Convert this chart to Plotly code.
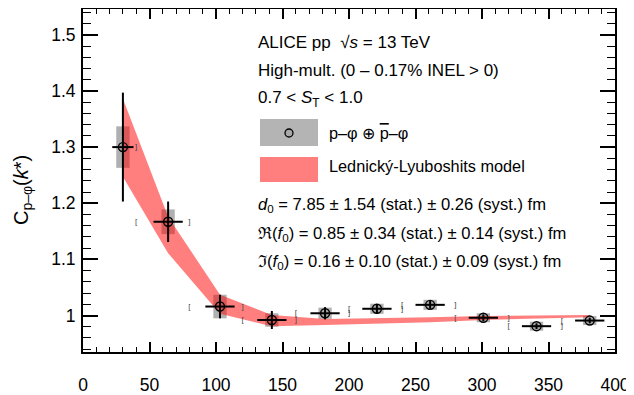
import plotly.graph_objects as go

# ---------------- data ----------------
k_star = [30, 64, 103, 142, 182, 221, 261, 301, 341, 381]
cf = [1.300, 1.167, 1.016, 0.992, 1.004, 1.012, 1.019, 0.996, 0.981, 0.991]
stat_y = [0.097, 0.036, 0.021, 0.016, 0.011, 0.008, 0.007, 0.006, 0.005, 0.005]
stat_x = [8, 11, 11, 11, 11, 11, 11, 11, 11, 11]
syst_y = [0.037, 0.022, 0.021, 0.012, 0.010, 0.009, 0.009, 0.008, 0.008, 0.008]
bin_low = [0, 40, 80, 120, 160, 200, 240, 280, 320, 360]
bin_high = [40, 80, 120, 160, 200, 240, 280, 320, 360, 400]

model_k = [30, 64, 103, 142, 182, 221, 261, 301, 341, 381]
model_low = [1.247, 1.111, 1.003, 0.981, 0.983, 0.985, 0.988, 0.992, 0.994, 0.997]
model_high = [1.386, 1.176, 1.037, 1.001, 0.994, 0.995, 0.997, 0.999, 1.000, 1.001]

x_ticks = [0, 50, 100, 150, 200, 250, 300, 350, 400]
y_ticks = [1.0, 1.1, 1.2, 1.3, 1.4, 1.5]
y_tick_text = ["1", "1.1", "1.2", "1.3", "1.4", "1.5"]

FONT = "Liberation Sans, Arial, Helvetica, sans-serif"

# The page body has an 8px default margin, so the figure is offset by (8, 8).
OFF = 8
W, H = 634 - OFF, 395 - OFF
# plot area in page pixels
PL, PR, PT, PB = 83, 615, 9, 352
L, R, T, B = PL - OFF, (OFF + W) - PR, PT - OFF, (OFF + H) - PB
PW, PH = PR - PL, PB - PT


def px(xp):
    return (xp - PL) / PW


def py(yp):
    return 1 - (yp - PT) / PH


fig = go.Figure()

# systematic boxes
fig.add_trace(go.Bar(
    x=k_star, y=[2 * s for s in syst_y], base=[c - s for c, s in zip(cf, syst_y)],
    width=10, marker=dict(color="rgba(150,150,150,0.75)", line=dict(width=0)),
    showlegend=False, hoverinfo="skip"))

# marker fill (under band)
fig.add_trace(go.Scatter(
    x=k_star, y=cf, mode="markers",
    marker=dict(symbol="circle", size=9, color="#a8a8a8", line=dict(width=0)),
    showlegend=False, hoverinfo="skip"))

# model band
fig.add_trace(go.Scatter(x=model_k, y=model_low, mode="lines",
                         line=dict(width=0, color="rgba(255,0,0,0)"),
                         showlegend=False, hoverinfo="skip"))
fig.add_trace(go.Scatter(x=model_k, y=model_high, mode="lines", fill="tonexty",
                         fillcolor="rgba(255,0,0,0.5)",
                         line=dict(width=0, color="rgba(255,0,0,0)"),
                         showlegend=False, hoverinfo="skip"))

# points with statistical errors
fig.add_trace(go.Scatter(
    x=k_star, y=cf, mode="markers",
    marker=dict(symbol="circle", size=9, color="rgba(0,0,0,0)",
                line=dict(width=1.4, color="black")),
    error_x=dict(type="data", array=stat_x, color="black", thickness=2, width=0),
    error_y=dict(type="data", array=stat_y, color="black", thickness=2, width=0),
    showlegend=False))

# bin-edge bracket glyphs
fig.add_trace(go.Scatter(
    x=bin_low[1:], y=cf[1:], mode="text", text=["["] * (len(cf) - 1),
    textfont=dict(size=8, color="#444", family=FONT), textposition="middle center",
    showlegend=False, hoverinfo="skip"))
fig.add_trace(go.Scatter(
    x=bin_high[:-1], y=cf[:-1], mode="text", text=["]"] * (len(cf) - 1),
    textfont=dict(size=8, color="#444", family=FONT), textposition="middle center",
    showlegend=False, hoverinfo="skip"))

axis_common = dict(showline=True, linecolor="black", linewidth=2, mirror="ticks",
                   ticks="inside", tickcolor="black", tickwidth=1.5,
                   showgrid=False, zeroline=False, automargin=False,
                   tickfont=dict(family=FONT, size=17.5, color="black"))

fig.update_xaxes(range=[0, 400], tickvals=x_ticks, ticklen=10,
                 minor=dict(dtick=10, ticks="inside", ticklen=5, tickwidth=1.2,
                            tickcolor="black", showgrid=False),
                 ticklabelstandoff=16, **axis_common)
fig.update_yaxes(range=[0.935, 1.546], tickvals=y_ticks, ticktext=y_tick_text, ticklen=15,
                 minor=dict(dtick=0.02, tick0=0, ticks="inside", ticklen=8, tickwidth=1.2,
                            tickcolor="black", showgrid=False),
                 ticklabelstandoff=2, **axis_common)

ann = []


def txt(x, y, s, size=16.6):
    ann.append(dict(x=px(x), y=py(y), xref="paper", yref="paper", text=s,
                    showarrow=False, xanchor="left", yanchor="middle",
                    font=dict(family=FONT, size=size, color="black")))


txt(256, 42, "ALICE pp  √<i>s</i> = 13 TeV", 17)
txt(256, 70, "High-mult. (0 – 0.17% INEL > 0)", 17)
txt(256, 99, "0.7 < <i>S</i><sub>T</sub> < 1.0", 17)
txt(327, 133, "p–φ ⊕ <span style='text-decoration:overline'>p</span>–φ", 16.3)
txt(327, 166, "Lednický-Lyuboshits model", 16.3)
txt(256, 205, "<i>d</i><sub>0</sub> = 7.85 ± 1.54 (stat.) ± 0.26 (syst.) fm")
txt(256, 234, "ℜ(<i>f</i><sub>0</sub>) = 0.85 ± 0.34 (stat.) ± 0.14 (syst.) fm")
txt(256, 262, "ℑ(<i>f</i><sub>0</sub>) = 0.16 ± 0.10 (stat.) ± 0.09 (syst.) fm")

ann.append(dict(x=px(22), y=py(190), xref="paper", yref="paper",
                text="C<sub>p–φ</sub>(<i>k</i>*)", textangle=-90, showarrow=False,
                xanchor="center", yanchor="middle",
                font=dict(family=FONT, size=20, color="black")))

shapes = [
    dict(type="rect", xref="paper", yref="paper", x0=px(260), x1=px(318),
         y0=py(146), y1=py(119), fillcolor="#b4b4b4", line=dict(width=0), layer="above"),
    dict(type="circle", xref="paper", yref="paper", x0=px(285), x1=px(293),
         y0=py(137), y1=py(129), fillcolor="#a8a8a8", line=dict(width=1.3, color="black"),
         layer="above"),
    dict(type="rect", xref="paper", yref="paper", x0=px(260), x1=px(318),
         y0=py(182), y1=py(157), fillcolor="rgba(255,0,0,0.5)", line=dict(width=0),
         layer="above"),
]

fig.update_layout(width=W, height=H, margin=dict(l=L, r=R, t=T, b=B),
                  paper_bgcolor="white", plot_bgcolor="white",
                  annotations=ann, shapes=shapes, barmode="overlay",
                  font=dict(family=FONT))

fig.write_html("out.html")
